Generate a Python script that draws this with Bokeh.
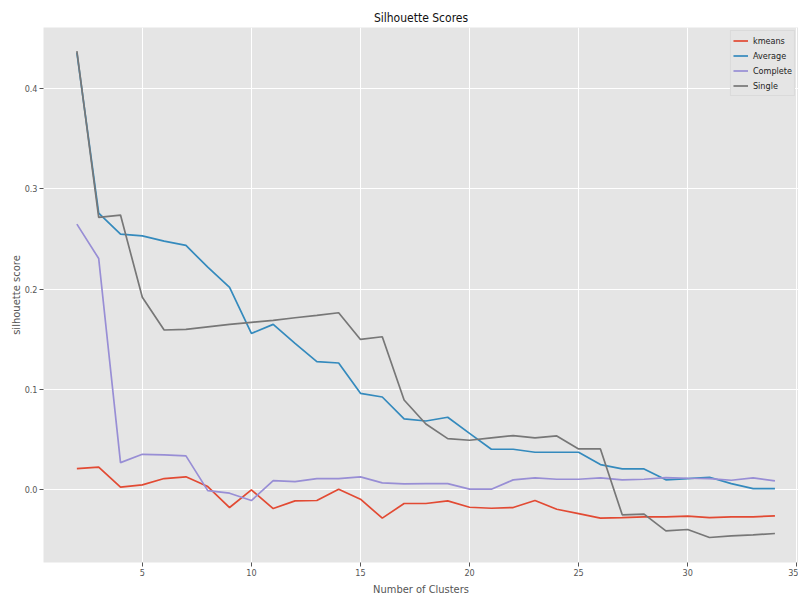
from bokeh.plotting import figure
from bokeh.models import Range1d, FixedTicker, Legend, LegendItem, PrintfTickFormatter
from bokeh.embed import file_html
from bokeh.resources import INLINE

clusters = [2, 3, 4, 5, 6, 7, 8, 9, 10, 11, 12, 13, 14, 15, 16, 17, 18,
            19, 20, 21, 22, 23, 24, 25, 26, 27, 28, 29, 30, 31, 32, 33, 34]

kmeans = [0.0212, 0.0226, 0.0027, 0.0050, 0.0113, 0.0130, 0.0033, -0.0176,
          0.0000, -0.0186, -0.0110, -0.0106, 0.0007, -0.0093, -0.0282, -0.0136,
          -0.0136, -0.0110, -0.0173, -0.0183, -0.0176, -0.0106, -0.0193, -0.0236,
          -0.0282, -0.0276, -0.0269, -0.0269, -0.0262, -0.0276, -0.0269, -0.0269,
          -0.0259]

average = [0.4360, 0.2760, 0.2550, 0.2533, 0.2480, 0.2437, 0.2220, 0.2019,
           0.1560, 0.1650, 0.1460, 0.1278, 0.1265, 0.0963, 0.0926, 0.0707,
           0.0687, 0.0724, 0.0564, 0.0405, 0.0405, 0.0375, 0.0375, 0.0375,
           0.0252, 0.0209, 0.0209, 0.0100, 0.0113, 0.0126, 0.0063, 0.0013,
           0.0013]

complete = [0.2650, 0.2307, 0.0272, 0.0355, 0.0349, 0.0339, -0.0007, -0.0033,
            -0.0106, 0.0093, 0.0083, 0.0113, 0.0113, 0.0130, 0.0070, 0.0060,
            0.0063, 0.0063, 0.0007, 0.0007, 0.0100, 0.0120, 0.0106, 0.0106,
            0.0120, 0.0100, 0.0106, 0.0123, 0.0116, 0.0113, 0.0096, 0.0120,
            0.0090]

single = [0.4375, 0.2716, 0.2740, 0.1920, 0.1594, 0.1600, 0.1625, 0.1650,
          0.1670, 0.1690, 0.1716, 0.1740, 0.1766, 0.1500, 0.1527, 0.0896,
          0.0657, 0.0511, 0.0495, 0.0518, 0.0541, 0.0518, 0.0538, 0.0408,
          0.0408, -0.0249, -0.0242, -0.0408, -0.0395, -0.0475, -0.0458, -0.0448,
          -0.0435]

series_names = ["kmeans", "Average", "Complete", "Single"]
series_colors = ["#E24A33", "#348ABD", "#988ED5", "#777777"]
x_ticks = [5, 10, 15, 20, 25, 30, 35]
y_ticks = [0.0, 0.1, 0.2, 0.3, 0.4]

NARROW = "DejaVu Sans Condensed, Liberation Sans Narrow, Roboto, sans-serif"

p = figure(width=798, height=598, output_backend="svg", toolbar_location=None,
           x_range=Range1d(0.47, 35.08), y_range=Range1d(-0.0724, 0.461),
           title="Silhouette Scores",
           min_border_left=43, min_border_right=0, min_border_top=27,
           min_border_bottom=35)

p.background_fill_color = "#E5E5E5"
p.border_fill_color = "white"
p.outline_line_color = None

p.title.align = "center"
p.title.text_font = NARROW
p.title.text_font_size = "12px"
p.title.text_font_style = "normal"
p.title.text_color = "#111111"
p.title.standoff = 5

p.xgrid.grid_line_color = "white"
p.ygrid.grid_line_color = "white"
p.xgrid.grid_line_width = 1
p.ygrid.grid_line_width = 1

p.xaxis.ticker = FixedTicker(ticks=x_ticks)
p.yaxis.ticker = FixedTicker(ticks=y_ticks)
p.yaxis.formatter = PrintfTickFormatter(format="%.1f")

for ax in (p.xaxis, p.yaxis):
    ax.axis_line_color = None
    ax.major_tick_line_color = "#555555"
    ax.major_tick_out = 4
    ax.major_tick_in = 0
    ax.minor_tick_line_color = None
    ax.major_label_text_font = NARROW
    ax.major_label_text_font_size = "9px"
    ax.major_label_text_color = "#555555"
    ax.axis_label_text_color = "#555555"
    ax.axis_label_text_font_style = "normal"

p.xaxis.major_label_standoff = 2
p.yaxis.major_label_standoff = 2
p.xaxis.axis_label = "Number of Clusters"
p.xaxis.axis_label_text_font = NARROW
p.xaxis.axis_label_text_font_size = "11px"
p.xaxis.axis_label_standoff = 4
p.yaxis.axis_label = "silhouette score"
p.yaxis.axis_label_text_font = "DejaVu Sans"
p.yaxis.axis_label_text_font_size = "10px"
p.yaxis.axis_label_standoff = 0

all_series = [kmeans, average, complete, single]
items = []
for name, color, vals in zip(series_names, series_colors, all_series):
    r = p.line(clusters, vals, line_color=color, line_width=1.7)
    items.append(LegendItem(label=name, renderers=[r]))

legend = Legend(items=items, location="top_right", orientation="vertical",
                label_text_font=NARROW, label_text_font_size="9px",
                label_text_color="#222222", glyph_width=15, glyph_height=15,
                label_height=15, spacing=0, padding=2, margin=3,
                label_standoff=5, background_fill_color="#E5E5E5",
                background_fill_alpha=1.0, border_line_color="#D0D0D0",
                border_line_width=1)
p.add_layout(legend)

open("out.html", "w").write(file_html(p, INLINE))
